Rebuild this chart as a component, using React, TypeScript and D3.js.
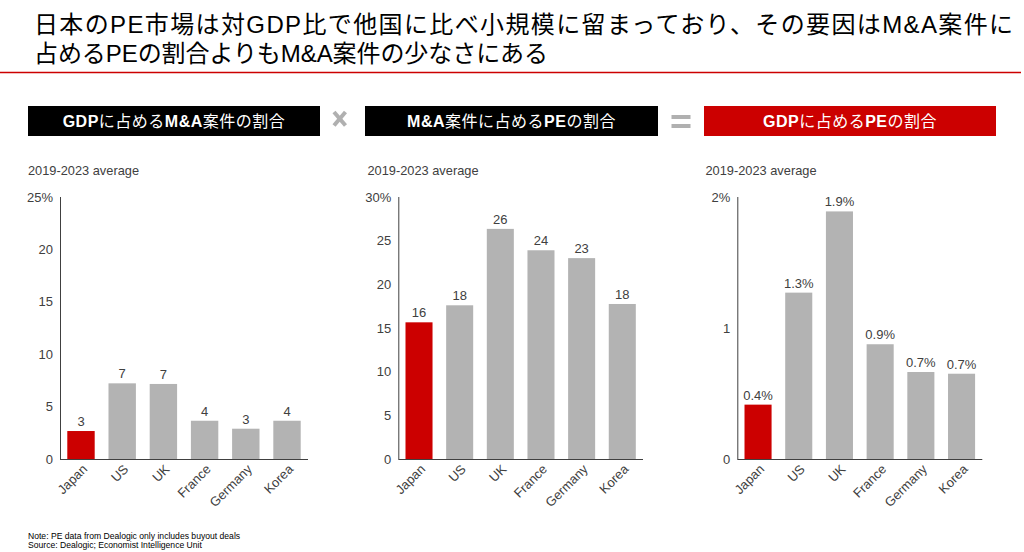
import React from "react";
import * as d3 from "d3";

const countries = ["Japan", "US", "UK", "France", "Germany", "Korea"];
const maShareOfGdp = [2.67, 7.22, 7.16, 3.65, 2.89, 3.65];
const peShareOfMa = [15.65, 17.6, 26.35, 23.9, 23.0, 17.75];
const peShareOfGdp = [0.415, 1.27, 1.89, 0.876, 0.664, 0.651];
const ticksMa = [0, 5, 10, 15, 20, 25];
const ticksPeMa = [0, 5, 10, 15, 20, 25, 30];
const ticksPeGdp = [0, 1, 2];

const titleLines = [
  "日本のPE市場は対GDP比で他国に比べ小規模に留まっており、その要因はM&A案件に",
  "占めるPEの割合よりもM&A案件の少なさにある",
];
const titleWidths = [979, 514];
const subtitle = "2019-2023 average";
const notes = [
  "Note: PE  data from Dealogic  only includes buyout deals",
  "Source: Dealogic; Economist Intelligence Unit",
];

// header parts: [text, bold]
const header1: [string, boolean][] = [["GDP", true], ["に占める", false], ["M&A", true], ["案件の割合", false]];
const header2: [string, boolean][] = [["M&A", true], ["案件に占める", false], ["PE", true], ["の割合", false]];
const header3: [string, boolean][] = [["GDP", true], ["に占める", false], ["PE", true], ["の割合", false]];

const RED = "#cc0000";
const GRAY = "#b3b3b3";
const TXT = "#404040";
const FONT = "'Liberation Sans', Arial, 'Noto Sans CJK JP', sans-serif";

const TOP = 197;
const BOTTOM = 459;

type PanelProps = {
  values: number[];
  ticks: number[];
  fmt: (v: number) => string;
  x0: number;
  x1: number;
  boxX: number;
  boxW: number;
  boxColor: string;
  header: [string, boolean][];
  subX: number;
};

function Panel(p: PanelProps) {
  const max = p.ticks[p.ticks.length - 1];
  const y = d3.scaleLinear().domain([0, max]).range([BOTTOM, TOP]);
  const x = d3
    .scaleBand<string>()
    .domain(countries)
    .range([p.x0, p.x1])
    .paddingInner(0.335)
    .paddingOuter(0.177);
  return (
    <g>
      <rect x={p.boxX} y={106} width={p.boxW} height={30} fill={p.boxColor} />
      <text
        x={p.boxX + p.boxW / 2}
        y={127}
        textAnchor="middle"
        fill="#fff"
        fontSize={16}
        style={{ letterSpacing: "0.5px" }}
      >
        {p.header.map(([t, b], i) => (
          <tspan key={i} fontWeight={b ? "bold" : "normal"}>
            {t}
          </tspan>
        ))}
      </text>
      <text x={p.subX} y={175} fontSize={12.8} fill={TXT}>
        {subtitle}
      </text>
      {p.ticks.map((t, i) => (
        <text
          key={t}
          x={p.x0 - 7}
          y={y(t)}
          dy="0.35em"
          textAnchor="end"
          fontSize={13}
          fill={TXT}
        >
          {i === p.ticks.length - 1 ? `${t}%` : `${t}`}
        </text>
      ))}
      {countries.map((c, i) => (
        <g key={c}>
          <rect
            x={x(c)}
            y={y(p.values[i])}
            width={x.bandwidth()}
            height={BOTTOM - y(p.values[i])}
            fill={i === 0 ? RED : GRAY}
          />
          <text
            x={(x(c) as number) + x.bandwidth() / 2}
            y={y(p.values[i]) - 5}
            textAnchor="middle"
            fontSize={13}
            fill={TXT}
          >
            {p.fmt(p.values[i])}
          </text>
          <text
            transform={`translate(${(x(c) as number) + x.bandwidth() / 2 + 7},${470}) rotate(-45)`}
            textAnchor="end"
            fontSize={13}
            fill={TXT}
          >
            {c}
          </text>
        </g>
      ))}
      <line x1={p.x0 + 0.5} x2={p.x0 + 0.5} y1={TOP} y2={BOTTOM} stroke={TXT} strokeWidth={1} />
      <line x1={p.x0} x2={p.x1} y1={BOTTOM + 0.5} y2={BOTTOM + 0.5} stroke={TXT} strokeWidth={1} />
    </g>
  );
}

export default function App() {
  const f0 = d3.format(".0f");
  const f1 = (v: number) => d3.format(".1f")(v) + "%";
  return (
    <svg
      width={1024}
      height={552}
      style={{ position: "absolute", left: 0, top: 0, display: "block", background: "#fff" }}
      fontFamily={FONT}
    >
      <rect width={1024} height={552} fill="#fff" />
      {titleLines.map((t, i) => (
        <text
          key={i}
          x={34}
          y={33 + i * 29}
          fontSize={24}
          fill="#000"
          textLength={titleWidths[i]}
          lengthAdjust="spacing"
        >
          {t}
        </text>
      ))}
      <line x1={0} x2={1021} y1={72.5} y2={72.5} stroke={RED} strokeWidth={1.5} />

      <Panel
        values={maShareOfGdp}
        ticks={ticksMa}
        fmt={f0}
        x0={60}
        x1={308}
        boxX={28}
        boxW={292}
        boxColor="#000"
        header={header1}
        subX={28}
      />
      <Panel
        values={peShareOfMa}
        ticks={ticksPeMa}
        fmt={f0}
        x0={398.3}
        x1={643}
        boxX={365}
        boxW={293}
        boxColor="#000"
        header={header2}
        subX={367.5}
      />
      <Panel
        values={peShareOfGdp}
        ticks={ticksPeGdp}
        fmt={f1}
        x0={737.3}
        x1={982.3}
        boxX={704}
        boxW={292}
        boxColor={RED}
        header={header3}
        subX={705.5}
      />

      {/* multiplication sign */}
      <line x1={334} y1={112} x2={345.5} y2={125.5} stroke="#b0b0b0" strokeWidth={4} />
      <line x1={345.5} y1={112} x2={334} y2={125.5} stroke="#b0b0b0" strokeWidth={4} />
      {/* equals sign */}
      <rect x={671.5} y={115} width={19} height={4} fill="#b0b0b0" />
      <rect x={671.5} y={124} width={19} height={4} fill="#b0b0b0" />

      {notes.map((n, i) => (
        <text key={i} x={28} y={539 + i * 8.7} fontSize={8.6} fill="#000">
          {n}
        </text>
      ))}
    </svg>
  );
}
